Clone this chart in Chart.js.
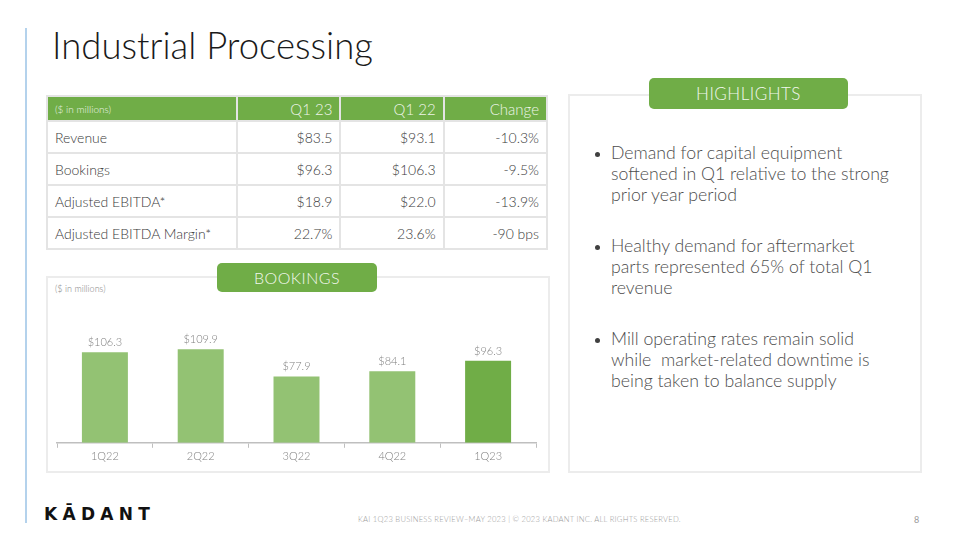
<!DOCTYPE html>
<html>
<head>
<meta charset="utf-8">
<script src="https://cdn.jsdelivr.net/npm/chart.js@4.4.0/dist/chart.umd.min.js"></script>
<style>
  body { margin: 0; width: 960px; height: 540px; background: #fff; font-family: Lato, "Open Sans", sans-serif; position: relative; overflow: hidden; }
  .vline { position: absolute; left: 25px; top: 28px; width: 2px; height: 495px; background: #b4d2ec; }
  h1 { position: absolute; left: 52px; top: 23px; margin: 0; font-weight: 300; font-size: 36.5px; color: #1a1a1a; }
  table { position: absolute; left: 46px; top: 95px; width: 502px; border-collapse: collapse; font-weight: 300; color: #3a3a3a; table-layout: fixed; }
  th, td { border: 2px solid #e4e4e4; padding: 0 7px; height: 30px; font-size: 14px; text-align: right; }
  th { background: #70ad47; color: #eef5e9; font-weight: 300; height: 23px; font-size: 15px; border-color: #e4e4e4; }
  th:first-child { text-align: left; font-size: 10px; }
  td:first-child { text-align: left; }
  .box { position: absolute; border: 2px solid #ececec; }
  .pill { position: absolute; background: #70ad47; color: #f2f8ee; border-radius: 5px; text-align: center; font-weight: 300; font-size: 16px; letter-spacing: 0.5px; }
  .note { position: absolute; left: 55px; top: 283px; font-size: 9px; color: #7f7f7f; font-weight: 300; }
  ul { position: absolute; left: 590px; top: 142px; margin: 0; padding: 0 0 0 21px; width: 280px; font-size: 17.7px; font-weight: 300; color: #4d4d4d; line-height: 21px; }
  li { margin-bottom: 30px; }
  li::marker { font-size: 14px; color: #404040; }
  .logo { position: absolute; left: 44px; top: 504px; font-family: "DejaVu Sans", sans-serif; font-weight: bold; font-size: 17px; letter-spacing: 5.3px; color: #111; }
  .foot { position: absolute; left: 358px; top: 514px; font-size: 7.6px; color: #9a9a9a; font-weight: 300; letter-spacing: 0.25px; }
  .page { position: absolute; left: 914px; top: 514px; font-size: 9px; color: #9a9a9a; }
  #wrap { position: absolute; left: 47px; top: 300px; width: 500px; height: 168px; }
</style>
</head>
<body>
<div class="vline"></div>
<h1>Industrial Processing</h1>

<table>
  <tr><th style="width:174px">($ in millions)</th><th>Q1 23</th><th>Q1 22</th><th>Change</th></tr>
  <tr><td>Revenue</td><td>$83.5</td><td>$93.1</td><td>-10.3%</td></tr>
  <tr><td>Bookings</td><td>$96.3</td><td>$106.3</td><td>-9.5%</td></tr>
  <tr><td>Adjusted EBITDA*</td><td>$18.9</td><td>$22.0</td><td>-13.9%</td></tr>
  <tr><td>Adjusted EBITDA Margin*</td><td>22.7%</td><td>23.6%</td><td>-90 bps</td></tr>
</table>

<div class="box" style="left:46px; top:276px; width:500px; height:193px;"></div>
<div class="pill" style="left:217px; top:263px; width:160px; height:29px; line-height:29px;">BOOKINGS</div>
<div class="note">($ in millions)</div>
<div id="wrap"><canvas id="bookingsChart"></canvas></div>

<div class="box" style="left:568px; top:94px; width:350px; height:375px;"></div>
<div class="pill" style="left:649px; top:78px; width:199px; height:31px; line-height:31px; font-size:17px;">HIGHLIGHTS</div>
<ul>
  <li>Demand for capital equipment softened in Q1 relative to the strong prior year period</li>
  <li>Healthy demand for aftermarket parts represented 65% of total Q1 revenue</li>
  <li>Mill operating rates remain solid while&nbsp; market-related downtime is being taken to balance supply</li>
</ul>

<div class="logo">K&#256;DANT</div>
<div class="foot">KAI 1Q23 BUSINESS REVIEW–MAY 2023 | © 2023 KADANT INC. ALL RIGHTS RESERVED.</div>
<div class="page">8</div>

<script>
const quarters = ['1Q22', '2Q22', '3Q22', '4Q22', '1Q23'];
const bookings = [106.3, 109.9, 77.9, 84.1, 96.3];
const barColors = ['#93c273', '#93c273', '#93c273', '#93c273', '#70ad47'];

// draws the $ value above each bar
const valueLabels = {
    id: 'valueLabels',
    afterDatasetsDraw(chart) {
        const ctx = chart.ctx;
        const meta = chart.getDatasetMeta(0);
        ctx.save();
        ctx.font = '300 11px Lato';
        ctx.fillStyle = '#7f7f7f';
        ctx.textAlign = 'center';
        ctx.textBaseline = 'bottom';
        meta.data.forEach((bar, i) => {
            ctx.fillText('$' + bookings[i].toFixed(1), bar.x, bar.y - 4);
        });
        ctx.restore();
    }
};

new Chart(document.getElementById('bookingsChart'), {
    type: 'bar',
    data: {
        labels: quarters,
        datasets: [{
            data: bookings,
            backgroundColor: barColors,
            categoryPercentage: 1,
            barPercentage: 0.48
        }]
    },
    options: {
        responsive: true,
        maintainAspectRatio: false,
        animation: false,
        layout: { padding: { left: 10, right: 11, top: 15, bottom: 3 } },
        plugins: { legend: { display: false }, tooltip: { enabled: false } },
        scales: {
            x: {
                grid: { drawOnChartArea: false, drawTicks: true, tickLength: 5, color: '#bfbfbf', offset: true },
                border: { display: true, color: '#bfbfbf', width: 1.5 },
                ticks: { color: '#7f7f7f', font: { family: 'Lato', size: 11, weight: 300 }, padding: 2 }
            },
            y: { display: false, min: 0, max: 150 }
        }
    },
    plugins: [valueLabels]
});
</script>
</body>
</html>
